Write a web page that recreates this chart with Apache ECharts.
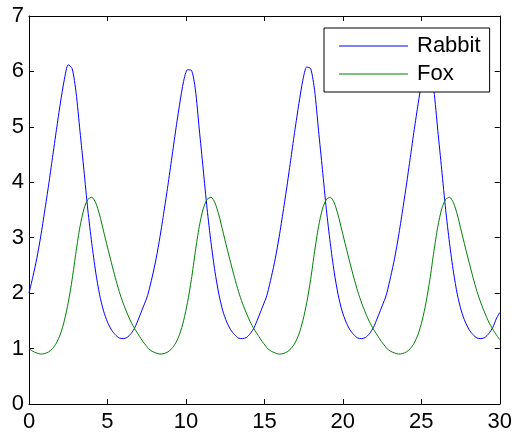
<!DOCTYPE html>
<html><head><meta charset="utf-8">
<script src="https://cdn.jsdelivr.net/npm/echarts@6/dist/echarts.min.js"></script>
<style>html,body{margin:0;padding:0;background:#fff}#c{width:515px;height:433px}</style>
</head><body><div id="c"></div>
<script>
const times = [
 0,0.25,0.5,0.75,1,1.25,1.5,1.75,2,2.25,2.5,2.75,3,3.25,3.5,3.75,4,4.25,4.5,4.75,5,5.25,5.5,5.75,6,6.25,6.5,6.75,7,7.25,7.5,
 7.6,7.85,8.1,8.35,8.6,8.85,9.1,9.35,9.6,9.85,10.1,10.35,10.6,10.85,11.1,11.35,11.6,11.85,12.1,12.35,12.6,12.85,13.1,13.35,13.6,13.85,14.1,14.35,14.6,14.85,15.1,
 15.2,15.45,15.7,15.95,16.2,16.45,16.7,16.95,17.2,17.45,17.7,17.95,18.2,18.45,18.7,18.95,19.2,19.45,19.7,19.95,20.2,20.45,20.7,20.95,21.2,21.45,21.7,21.95,22.2,22.45,22.7,
 22.8,23.05,23.3,23.55,23.8,24.05,24.3,24.55,24.8,25.05,25.3,25.55,25.8,26.05,26.3,26.55,26.8,27.05,27.3,27.55,27.8,28.05,28.3,28.55,28.8,29.05,29.3,29.55,29.8,30
];
const rabbit = [
 2.00,2.30,2.63,3.03,3.48,3.95,4.45,4.95,5.43,5.85,6.12,6.05,5.62,4.92,4.22,3.50,2.90,2.38,1.97,1.68,1.48,1.34,1.25,1.19,1.18,1.20,1.27,1.38,1.55,1.73,1.91,
 2.00,2.29,2.62,3.02,3.47,3.94,4.44,4.94,5.41,5.82,6.03,6.02,5.68,4.96,4.24,3.52,2.91,2.39,1.98,1.68,1.48,1.34,1.25,1.19,1.18,1.20,1.27,1.38,1.55,1.73,1.91,
 2.00,2.30,2.63,3.03,3.48,3.95,4.45,4.95,5.42,5.84,6.08,6.05,5.66,4.94,4.23,3.51,2.90,2.38,1.97,1.68,1.48,1.34,1.25,1.19,1.18,1.20,1.27,1.38,1.55,1.73,1.91,
 2.00,2.30,2.63,3.03,3.48,3.95,4.45,4.95,5.42,5.84,6.08,6.05,5.66,4.94,4.23,3.51,2.90,2.38,1.97,1.68,1.48,1.34,1.25,1.19,1.18,1.20,1.27,1.38,1.55,1.65
];
const fox = [
 1.00,0.95,0.92,0.90,0.91,0.94,1.00,1.10,1.26,1.50,1.83,2.25,2.75,3.20,3.52,3.69,3.73,3.63,3.41,3.12,2.83,2.55,2.28,2.03,1.82,1.64,1.48,1.35,1.24,1.13,1.04,
 1.00,0.95,0.92,0.90,0.91,0.94,1.00,1.10,1.26,1.50,1.83,2.25,2.75,3.20,3.52,3.69,3.73,3.63,3.41,3.12,2.83,2.55,2.28,2.03,1.82,1.64,1.48,1.35,1.24,1.13,1.04,
 1.00,0.95,0.92,0.90,0.91,0.94,1.00,1.10,1.26,1.50,1.83,2.25,2.75,3.20,3.52,3.69,3.73,3.63,3.41,3.12,2.83,2.55,2.28,2.03,1.82,1.64,1.48,1.35,1.24,1.13,1.04,
 1.00,0.95,0.92,0.90,0.91,0.94,1.00,1.10,1.26,1.50,1.83,2.25,2.75,3.20,3.52,3.69,3.73,3.63,3.41,3.12,2.83,2.55,2.28,2.03,1.82,1.64,1.48,1.35,1.24,1.16
];
const seriesNames = ['Rabbit','Fox'];
const seriesColors = ['#0000ff','#008000'];
const xTickLabels = ['0','5','10','15','20','25','30'];
const yTickLabels = ['0','1','2','3','4','5','6','7'];

const FONT = 'Liberation Sans, Arial, Helvetica, sans-serif';
const chart = echarts.init(document.getElementById('c'), null, {renderer:'canvas'});
const axisCommon = {
  axisLine:{show:true, onZero:false, lineStyle:{color:'#000', width:1}},
  axisTick:{show:true, inside:true, length:5, lineStyle:{color:'#000', width:1}},
  splitLine:{show:false}
};
chart.setOption({
  animation:false,
  backgroundColor:'#fff',
  grid:{left:29, top:16, width:472, height:389, containLabel:false},
  xAxis:[
    Object.assign({type:'value', min:0, max:30, interval:5, position:'bottom',
      axisLabel:{show:true, margin:7, fontSize:22, color:'#000', fontFamily:FONT,
        formatter:(v)=>xTickLabels[Math.round(v/5)]}}, axisCommon),
    Object.assign({type:'value', min:0, max:30, interval:5, position:'top',
      axisLabel:{show:false}}, axisCommon)
  ],
  yAxis:[
    Object.assign({type:'value', min:0, max:7, interval:1, position:'left',
      axisLabel:{show:true, margin:5, fontSize:22, color:'#000', fontFamily:FONT,
        formatter:(v)=>yTickLabels[Math.round(v)]}}, axisCommon),
    Object.assign({type:'value', min:0, max:7, interval:1, position:'right',
      axisLabel:{show:false}}, axisCommon)
  ],
  legend:{
    orient:'vertical', left:324, top:28,
    padding:[7,9,7,15], itemGap:6, itemWidth:69, itemHeight:1,
    backgroundColor:'#fff', borderColor:'#000', borderWidth:1, borderRadius:0,
    textStyle:{fontSize:22, color:'#000', fontFamily:FONT, padding:[0,0,0,4]},
    data:seriesNames.map(n=>({name:n, icon:'rect'}))
  },
  series:seriesNames.map((n,k)=>({
    name:n, type:'line', xAxisIndex:0, yAxisIndex:0, symbol:'none', smooth:0.25,
    lineStyle:{color:seriesColors[k], width:1}, itemStyle:{color:seriesColors[k]},
    data:times.map((t,i)=>[t, (k===0?rabbit:fox)[i]])
  }))
});
</script>
</body></html>
